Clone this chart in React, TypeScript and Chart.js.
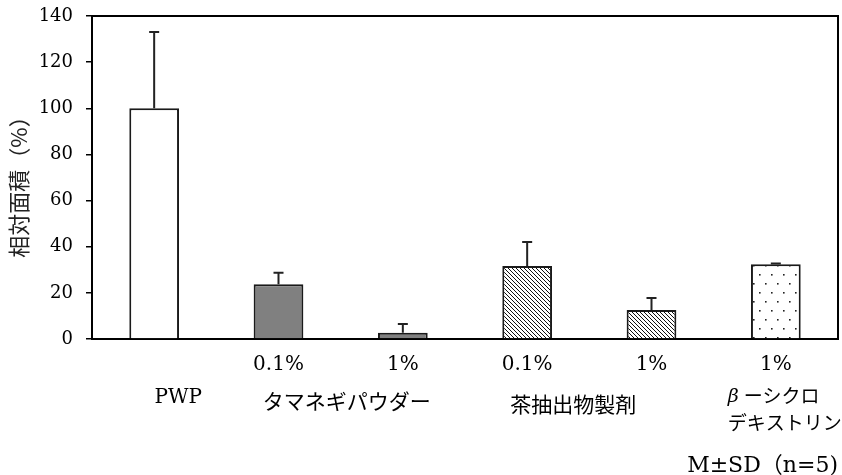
import React, { useEffect, useRef } from "react";
import { Chart, registerables } from "chart.js";

Chart.register(...registerables);

// ---- data ----
const categories = ["PWP", "タマネギパウダー 0.1%", "タマネギパウダー 1%", "茶抽出物製剤 0.1%", "茶抽出物製剤 1%", "βーシクロデキストリン 1%"];
const concLabels = ["", "0.1%", "1%", "0.1%", "1%", "1%"];
const means = [100, 23.7, 2.7, 31.6, 12.6, 32.4];
const sds = [33.1, 5.0, 3.8, 10.4, 5.2, 0.3];
const yMin = 0;
const yMax = 140;
const yStep = 20;
const yTitle = "相対面積（%）";
const note = "M±SD（n=5)";

const NUM_FONT = "'DejaVu Serif', 'Noto Sans CJK JP', serif";
const JP_FONT = "'Noto Sans CJK JP', sans-serif";

function makeHatch(): CanvasPattern | string {
  const c = document.createElement("canvas");
  c.width = 4;
  c.height = 4;
  const g = c.getContext("2d");
  if (!g) return "#fff";
  g.fillStyle = "#fff";
  g.fillRect(0, 0, 4, 4);
  g.strokeStyle = "#111";
  g.lineWidth = 1;
  g.beginPath();
  g.moveTo(-1, -1);
  g.lineTo(5, 5);
  g.moveTo(-1, 3);
  g.lineTo(1, 5);
  g.moveTo(3, -1);
  g.lineTo(5, 1);
  g.stroke();
  return g.createPattern(c, "repeat") || "#fff";
}

function makeDots(): CanvasPattern | string {
  const c = document.createElement("canvas");
  c.width = 12;
  c.height = 18;
  const g = c.getContext("2d");
  if (!g) return "#fff";
  g.fillStyle = "#fff";
  g.fillRect(0, 0, 12, 18);
  g.fillStyle = "#222";
  g.fillRect(3, 4, 1.6, 1.6);
  g.fillRect(9, 13, 1.6, 1.6);
  return g.createPattern(c, "repeat") || "#fff";
}

const overlay = {
  id: "overlay",
  afterDatasetsDraw(chart: any) {
    const ctx = chart.ctx as CanvasRenderingContext2D;
    const ys = chart.scales.y;
    const xs = chart.scales.x;
    const meta = chart.getDatasetMeta(0);
    const area = chart.chartArea;
    ctx.save();
    // error bars (upper only)
    ctx.strokeStyle = "#222";
    ctx.lineWidth = 2;
    meta.data.forEach((bar: any, i: number) => {
      const x = bar.x;
      const yb = ys.getPixelForValue(means[i]);
      const yt = ys.getPixelForValue(means[i] + sds[i]);
      ctx.beginPath();
      ctx.moveTo(x, yb);
      ctx.lineTo(x, yt);
      ctx.moveTo(x - 5, yt);
      ctx.lineTo(x + 5, yt);
      ctx.stroke();
    });
    // box top and right
    ctx.strokeStyle = "#000";
    ctx.lineWidth = 2;
    ctx.beginPath();
    ctx.moveTo(area.left, area.top);
    ctx.lineTo(area.right, area.top);
    ctx.lineTo(area.right, area.bottom);
    ctx.stroke();

    // x labels row 1
    ctx.fillStyle = "#000";
    ctx.textAlign = "center";
    ctx.textBaseline = "middle";
    ctx.font = `20px ${NUM_FONT}`;
    concLabels.forEach((t, i) => {
      if (t) ctx.fillText(t, xs.getPixelForValue(i), 365);
    });
    // row 2 group labels
    const px = (i: number) => xs.getPixelForValue(i);
    ctx.font = `20px ${NUM_FONT}`;
    ctx.fillText("PWP", px(0) + 24, 398);
    ctx.font = `21px ${JP_FONT}`;
    ctx.fillText("タマネギパウダー", (px(1) + px(2)) / 2 + 6, 401);
    ctx.fillText("茶抽出物製剤", (px(3) + px(4)) / 2 - 16, 404);
    // β-cyclodextrin (two lines)
    ctx.textAlign = "left";
    const bx = px(5) - 48;
    ctx.font = `italic 19px ${NUM_FONT}`;
    ctx.fillText("β", bx, 397);
    const bw = ctx.measureText("β").width;
    ctx.font = `19px ${JP_FONT}`;
    ctx.fillText("ーシクロ", bx + bw + 5, 396);
    ctx.fillText("デキストリン", bx, 423);
    // note
    ctx.textAlign = "right";
    ctx.font = `22px ${NUM_FONT}`;
    ctx.fillText(note, 838, 466);
    // y title
    ctx.translate(19, (area.top + area.bottom) / 2 + 4);
    ctx.rotate(-Math.PI / 2);
    ctx.textAlign = "center";
    ctx.textBaseline = "middle";
    ctx.font = `22px ${JP_FONT}`;
    ctx.fillStyle = "#222";
    ctx.fillText(yTitle, 0, 0);
    ctx.restore();
  },
};

export default function App() {
  const ref = useRef<HTMLCanvasElement | null>(null);
  useEffect(() => {
    if (!ref.current) return;
    const hatch = makeHatch();
    const dots = makeDots();
    const fills = ["#ffffff", "#808080", "#808080", hatch, hatch, dots];
    const chart = new Chart(ref.current, {
      type: "bar",
      data: {
        labels: categories,
        datasets: [
          {
            data: means,
            backgroundColor: fills as any,
            borderColor: "#1a1a1a",
            borderWidth: 2,
            barPercentage: 0.4,
            categoryPercentage: 1,
          },
        ],
      },
      options: {
        animation: false,
        responsive: false,
        devicePixelRatio: 1,
        layout: { padding: { top: 16, right: 4, left: 0, bottom: 0 } },
        plugins: { legend: { display: false }, tooltip: { enabled: false } },
        scales: {
          x: {
            grid: { display: false },
            ticks: { display: false },
            border: { display: true, color: "#000", width: 2 },
            afterFit(scale: any) {
              scale.height = 136;
              scale.paddingLeft = 0;
              scale.paddingRight = 0;
            },
          },
          y: {
            min: yMin,
            max: yMax,
            ticks: {
              stepSize: yStep,
              color: "#000",
              padding: 13,
              font: { family: NUM_FONT, size: 18 },
            },
            grid: { drawOnChartArea: false, drawTicks: true, tickLength: 6, color: "#000", lineWidth: 1.5 },
            border: { display: true, color: "#000", width: 2 },
            afterFit(scale: any) {
              scale.width = 92;
              scale.paddingTop = 0;
              scale.paddingBottom = 0;
            },
          },
        },
      },
      plugins: [overlay],
    });
    return () => chart.destroy();
  }, []);
  return (
    <div style={{ position: "fixed", left: 0, top: 0, width: 842, height: 475, background: "#fff" }}>
      <canvas ref={ref} width={842} height={475} style={{ width: 842, height: 475, display: "block" }} />
    </div>
  );
}
